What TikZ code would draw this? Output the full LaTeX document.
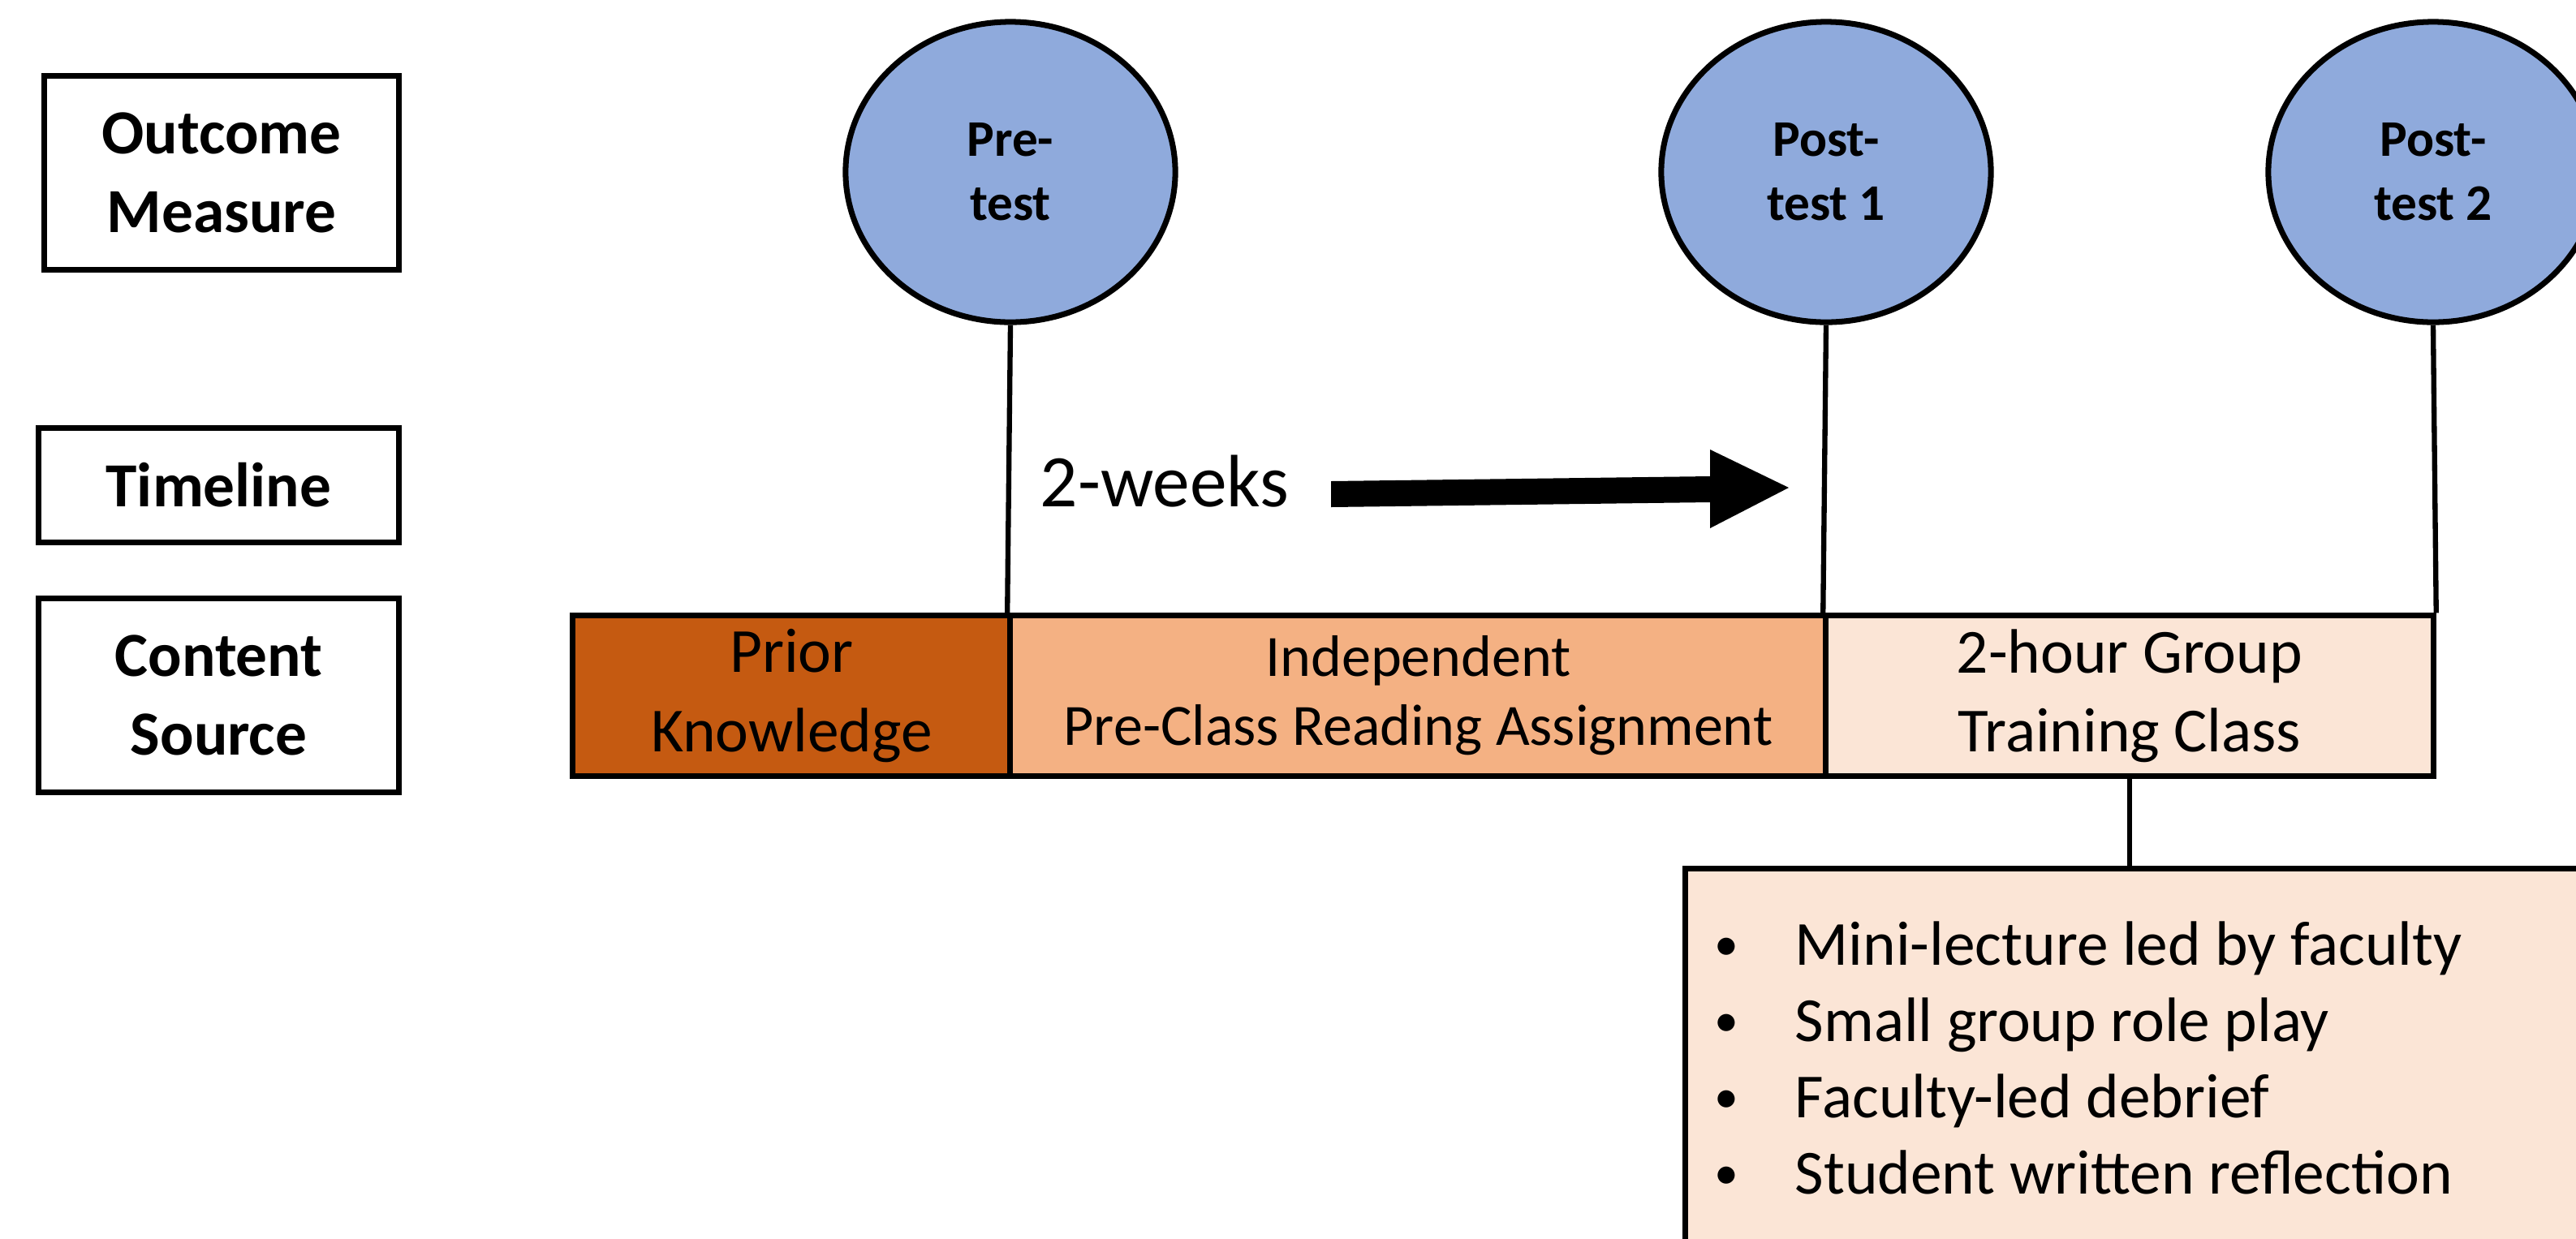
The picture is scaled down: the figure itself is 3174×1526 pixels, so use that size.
\documentclass[tikz,border=0pt]{standalone}
\usepackage{fontspec}
\setmainfont{Carlito}
\usepackage{xcolor}
\usepackage{tikz}
\usetikzlibrary{shapes.geometric}
\usetikzlibrary{positioning}

\definecolor{testblue}{HTML}{8FAADC}
\definecolor{priorbrown}{HTML}{C55A11}
\definecolor{readorange}{HTML}{F4B183}
\definecolor{classpeach}{HTML}{FBE5D6}

\tikzset{
	rowlabel/.style={draw,line width=2pt,align=center,inner sep=0pt,
		font=\fontsize{22}{27.6}\selectfont\bfseries},
	testnode/.style={ellipse,draw,line width=2pt,fill=testblue,inner sep=0pt,
		minimum width=4.06cm,minimum height=3.7cm,align=center,
		font=\fontsize{18}{22.5}\selectfont\bfseries},
	phase/.style={draw,line width=2pt,inner sep=0pt,minimum height=1.97cm,align=center,
		font=\fontsize{22}{27.6}\selectfont},
	stem/.style={line width=1.8pt}
}

\begin{document}
\begin{tikzpicture}[x=0.01cm,y=-0.01cm]
	\useasboundingbox (0,0) rectangle (3174,1526);
	\clip (0,0) rectangle (3174,1526);
	% row labels
	\node[rowlabel,minimum width=4.36cm,minimum height=2.38cm] (outcome) at (273,213) {Outcome\\Measure};
	\node[rowlabel,minimum width=4.43cm,minimum height=1.40cm] (timeline) at (269.5,598) {Timeline};
	\node[rowlabel,minimum width=4.43cm,minimum height=2.38cm] (source) at (269.5,857) {Content\\Source};
	% tests
	\node[testnode] (pre) at (1245,212) {Pre-\\test};
	\node[testnode] (post1) at (2250,212) {Post-\\test 1};
	\node[testnode] (post2) at (2998,212) {Post-\\test 2};
	% content bar
	\node[phase,fill=priorbrown,minimum width=5.39cm] (prior) at (975.5,857.5) {Prior\\Knowledge};
	\node[phase,fill=readorange,minimum width=10.05cm,font=\fontsize{20.5}{24.2}\selectfont] (reading) at (1747.5,857.5) {Independent\\Pre-Class Reading Assignment};
	\node[phase,fill=classpeach,minimum width=7.48cm] (training) at (2624,857.5) {2-hour Group\\Training Class};
	\draw[stem] (pre.south) -- (reading.north west);
	\draw[stem] (post1.south) -- (training.north west);
	\draw[stem] (post2.south) -- (training.north east);
	% two week gap
	\node[anchor=base west,inner sep=0pt,font=\fontsize{26}{31}\selectfont] (gap) at (1281,624) {2-weeks};
	\fill (1640,593) -- (2107,587) -- (2107,554) -- (2204,601) -- (2107,651) -- (2107,619) -- (1640,625) -- cycle;
	% what happens in class
	\node[draw,line width=2pt,fill=classpeach,anchor=north west,minimum width=12cm,minimum height=6cm] (activities) at (2073,1067) {};
	\draw[stem] (training.south) -- (training.south |- activities.north);
	\foreach \txt [count=\i] in {Mini-lecture led by faculty,Small group role play,Faculty-led debrief,Student written reflection}{
		\node[anchor=base,inner sep=0pt,font=\fontsize{17}{20}\selectfont] (dot\i) at (2127,{1183+94*(\i-1)}) {\textbullet};
		\node[anchor=base west,inner sep=0pt,font=\fontsize{22}{27}\selectfont] (act\i) at (2211,{1189+94*(\i-1)}) {\txt};
	}
\end{tikzpicture}
\end{document}
